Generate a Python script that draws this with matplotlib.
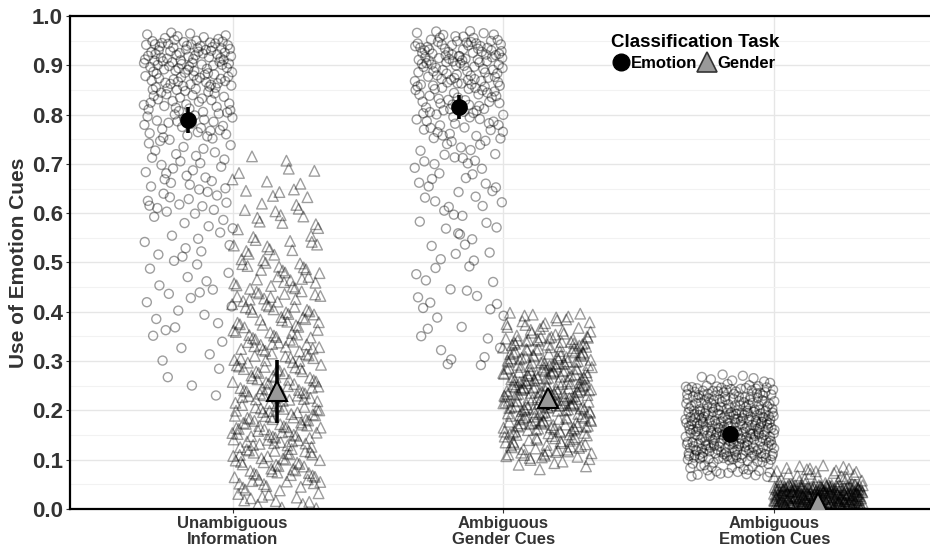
import numpy as np
import matplotlib
matplotlib.use("Agg")
import matplotlib.pyplot as plt
from matplotlib.lines import Line2D

plt.rcParams['font.family'] = ['Liberation Sans', 'DejaVu Sans']
plt.rcParams['font.weight'] = 'bold'

# categories and tasks
categories = ["Unambiguous\nInformation", "Ambiguous\nGender Cues", "Ambiguous\nEmotion Cues"]
tasks = ["Emotion", "Gender"]

# histogram of individual points, 0.05-wide bins from 0.0 to 1.0
bin_edges = np.arange(0, 1.0001, 0.05)
counts = {
    ("Unambiguous", "Emotion"): [0, 0, 0, 0, 1, 3, 4, 6, 6, 6, 8, 8, 14, 14, 14, 24, 30, 45, 55, 10],
    ("Unambiguous", "Gender"):  [18, 30, 35, 38, 34, 30, 28, 25, 25, 20, 14, 10, 10, 6, 3, 0, 0, 0, 0, 0],
    ("AmbGender", "Emotion"):   [0, 0, 0, 0, 0, 2, 4, 5, 7, 6, 7, 8, 10, 10, 14, 22, 32, 42, 55, 12],
    ("AmbGender", "Gender"):    [0, 6, 40, 60, 75, 70, 55, 25, 0, 0, 0, 0, 0, 0, 0, 0, 0, 0, 0, 0],
    ("AmbEmotion", "Emotion"):  [0, 30, 100, 110, 80, 10, 0, 0, 0, 0, 0, 0, 0, 0, 0, 0, 0, 0, 0, 0],
    ("AmbEmotion", "Gender"):   [280, 30, 0, 0, 0, 0, 0, 0, 0, 0, 0, 0, 0, 0, 0, 0, 0, 0, 0, 0],
}
# lowest / highest single values per group
min_vals = {("Unambiguous", "Emotion"): 0.22, ("Unambiguous", "Gender"): 0.0,
            ("AmbGender", "Emotion"): 0.29, ("AmbGender", "Gender"): 0.08,
            ("AmbEmotion", "Emotion"): 0.065, ("AmbEmotion", "Gender"): 0.0}
max_vals = {("Unambiguous", "Emotion"): 0.968, ("Unambiguous", "Gender"): 0.75,
            ("AmbGender", "Emotion"): 0.972, ("AmbGender", "Gender"): 0.40,
            ("AmbEmotion", "Emotion"): 0.275, ("AmbEmotion", "Gender"): 0.09}
cat_keys = ["Unambiguous", "AmbGender", "AmbEmotion"]

# means and error bar limits
mean_emotion = [0.79, 0.815, 0.152]
lo_emotion = [0.763, 0.792, 0.138]
hi_emotion = [0.815, 0.840, 0.168]
mean_gender = [0.24, 0.225, 0.012]
lo_gender = [0.175, 0.200, 0.000]
hi_gender = [0.302, 0.242, 0.030]


def halton(idx, base):
    # van der Corput radical inverse, used to spread points over the cloud
    out = np.zeros(len(idx))
    f = 1.0
    i = idx.copy()
    while np.any(i > 0):
        f /= base
        out += f * (i % base)
        i //= base
    return out


fig = plt.figure(figsize=(9.3, 5.49), dpi=100)
ax = fig.add_axes([0.0753, 0.0729, 0.9247, 0.898])

dodge = 0.163
jit = 0.165
base_pairs = [(2, 3), (3, 5), (2, 5), (3, 7), (2, 7), (5, 3)]

for ci, ck in enumerate(cat_keys):
    for ti, task in enumerate(tasks):
        key = (ck, task)
        bx, bu = base_pairs[ci * 2 + ti]
        center = ci + 1 + (-dodge if task == "Emotion" else dodge)
        c = np.array(counts[key], dtype=float)
        edges = np.clip(bin_edges, min_vals[key], max_vals[key])
        cdf = np.concatenate([[0], np.cumsum(c)]) / c.sum()
        m = np.arange(int(c.sum())) + 17 + ci * 29 + ti * 11
        u = halton(m, bu)
        xs = center + jit * (2 * halton(m, bx) - 1)
        keep = np.concatenate([[True], np.diff(cdf) > 0])
        ys = np.interp(u, cdf[keep], edges[keep])
        marker = "o" if task == "Emotion" else "^"
        ax.scatter(xs, ys, s=42 if marker == "o" else 58, marker=marker,
                   facecolors="none", edgecolors=(0, 0, 0, 0.38), linewidths=1.0, zorder=2)

xe = np.arange(1, 4) - dodge
xg = np.arange(1, 4) + dodge
ax.vlines(xe, lo_emotion, hi_emotion, colors="black", linewidth=2.6, zorder=3)
ax.vlines(xg, lo_gender, hi_gender, colors="black", linewidth=2.6, zorder=3)
ax.plot(xe, mean_emotion, "o", color="black", markersize=11, linestyle="none", zorder=4)
ax.plot(xg, mean_gender, "^", markerfacecolor="#999999", markeredgecolor="black",
        markeredgewidth=1.5, markersize=14, linestyle="none", zorder=4)

ax.set_xlim(0.4, 3.575)
ax.set_ylim(0, 1.0)
ax.set_xticks([1, 2, 3])
ax.set_xticklabels(categories, fontsize=12, fontweight="bold", color="#333333", linespacing=1.1)
ax.set_yticks(np.arange(0, 1.01, 0.1))
ax.set_yticklabels([f"{v:.1f}" for v in np.arange(0, 1.01, 0.1)], fontsize=16,
                   fontweight="bold", color="#333333")
ax.set_yticks(np.arange(0.05, 1.0, 0.1), minor=True)
ax.tick_params(axis="both", which="major", length=3, color="#333333", pad=2)
ax.tick_params(axis="y", which="minor", length=0)
ax.set_ylabel("Use of Emotion Cues", fontsize=15, fontweight="bold", color="#333333", labelpad=3)

ax.grid(True, which="major", color="#e6e6e6", linewidth=1.0, zorder=0)
ax.grid(True, which="minor", axis="y", color="#f2f2f2", linewidth=0.8, zorder=0)
ax.set_axisbelow(True)
for side in ["left", "bottom", "top"]:
    ax.spines[side].set_color("black")
    ax.spines[side].set_linewidth(1.6)
ax.spines["right"].set_visible(False)

handles = [
    Line2D([], [], marker="o", color="black", markersize=12, linestyle="none"),
    Line2D([], [], marker="^", markerfacecolor="#999999", markeredgecolor="#333333",
           markeredgewidth=1.2, markersize=15, linestyle="none"),
]
leg = ax.legend(handles, tasks, title="Classification Task", ncol=2, frameon=False,
                loc="upper left", bbox_to_anchor=(0.615, 0.988), handletextpad=0.0,
                columnspacing=0.0, handlelength=1.2, borderpad=0.2, labelspacing=0.2,
                prop={"weight": "bold", "size": 12})
leg.get_title().set_fontweight("bold")
leg.get_title().set_fontsize(13.5)
leg._legend_box.align = "left"
leg._legend_box.sep = 4

fig.savefig("out.png", dpi=100)
